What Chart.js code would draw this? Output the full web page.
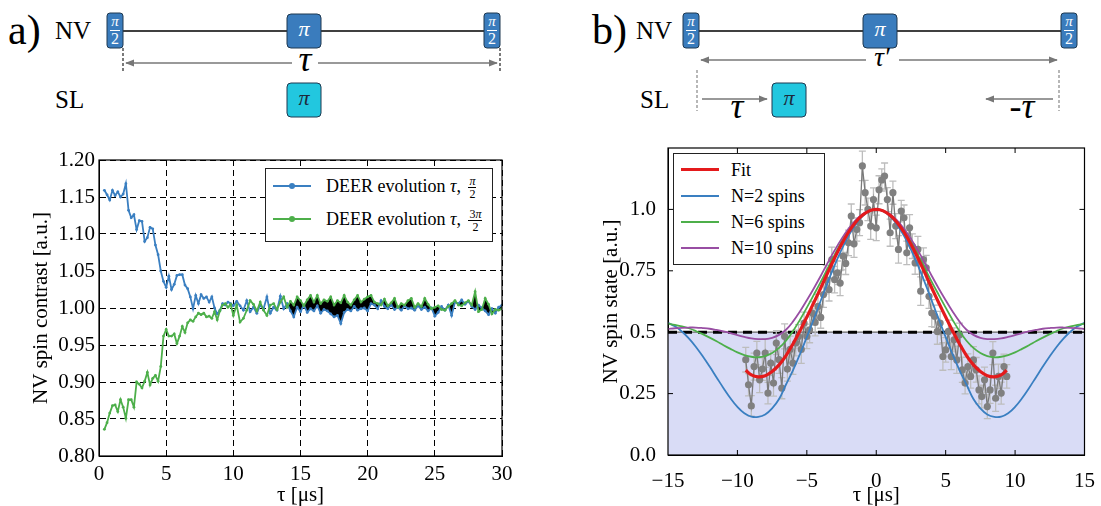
<!DOCTYPE html>
<html>
<head>
<meta charset="utf-8">
<title>DEER evolution</title>
<script src="https://cdn.jsdelivr.net/npm/chart.js@4.4.0/dist/chart.umd.min.js"></script>
<style>
  body { margin: 0; width: 1101px; height: 506px; background: #fff; position: relative; overflow: hidden; font-family: 'Liberation Serif', serif; }
  #diagram { position: absolute; left: 0; top: 0; }
  #diagramText { position: absolute; left: 0; top: 0; width: 1101px; height: 130px; }
  #diagramText div { position: absolute; line-height: 1; white-space: nowrap; font-family: 'Liberation Serif', serif; }
  .chartBox { position: absolute; }
  .legend { position: absolute; border: 1px solid #222; background: #fff; font-size: 18px; color: #000; z-index: 5; }
  .legend .row { position: absolute; left: 0; right: 0; height: 24px; line-height: 24px; }
  .legend .swatch { position: absolute; left: 7px; width: 38px; top: 11px; height: 2px; }
  .legend .dot { position: absolute; left: 16px; top: -2px; width: 6px; height: 6px; border-radius: 3px; }
  .legend .txt { position: absolute; white-space: nowrap; }
  .frac { display: inline-block; vertical-align: middle; text-align: center; font-size: 12px; line-height: 12px; margin-left: 3px; }
  .frac span { display: block; }
  .frac span:first-child { border-bottom: 1px solid #000; padding: 0 1px; }
</style>
</head>
<body>

<svg id="diagram" width="1101" height="130">
  <defs>
    <marker id="ah" viewBox="0 0 10 10" refX="9" refY="5" markerWidth="6" markerHeight="6" orient="auto-start-reverse">
      <path d="M0,1 L10,5 L0,9 z" fill="#777"/>
    </marker>
  </defs>

  <!-- a) sequence -->
  <line x1="123" y1="31" x2="484" y2="31" stroke="#000" stroke-width="1.5"/>
  <rect x="107" y="13" width="16" height="35" rx="3" fill="#3a7cbd" stroke="#1e3850"/>
  <line x1="110" y1="30.5" x2="120" y2="30.5" stroke="#fff"/>
  <rect x="287" y="14" width="34" height="34" rx="4" fill="#3a7cbd" stroke="#1e3850"/>
  <rect x="484" y="13" width="16" height="35" rx="3" fill="#3a7cbd" stroke="#1e3850"/>
  <line x1="487" y1="30.5" x2="497" y2="30.5" stroke="#fff"/>
  <line x1="123" y1="48" x2="123" y2="72" stroke="#222" stroke-width="1.2" stroke-dasharray="3,2"/>
  <line x1="500" y1="48" x2="500" y2="72" stroke="#222" stroke-width="1.2" stroke-dasharray="3,2"/>
  <line x1="126" y1="63" x2="292" y2="63" stroke="#777" stroke-width="1.5" marker-start="url(#ah)"/>
  <line x1="318" y1="63" x2="497" y2="63" stroke="#777" stroke-width="1.5" marker-end="url(#ah)"/>
  <rect x="287" y="83" width="34" height="34" rx="4" fill="#22c7df" stroke="#1e3850"/>

  <!-- b) sequence -->
  <line x1="699" y1="31" x2="1061" y2="31" stroke="#000" stroke-width="1.5"/>
  <rect x="683" y="13" width="16" height="35" rx="3" fill="#3a7cbd" stroke="#1e3850"/>
  <line x1="686" y1="30.5" x2="696" y2="30.5" stroke="#fff"/>
  <rect x="863" y="14" width="34" height="34" rx="4" fill="#3a7cbd" stroke="#1e3850"/>
  <rect x="1061" y="13" width="16" height="35" rx="3" fill="#3a7cbd" stroke="#1e3850"/>
  <line x1="1064" y1="30.5" x2="1074" y2="30.5" stroke="#fff"/>
  <line x1="701" y1="60" x2="866" y2="60" stroke="#777" stroke-width="1.5" marker-start="url(#ah)"/>
  <line x1="899" y1="60" x2="1057" y2="60" stroke="#777" stroke-width="1.5" marker-end="url(#ah)"/>
  <line x1="697" y1="70" x2="697" y2="111" stroke="#888" stroke-width="1.2" stroke-dasharray="3,2"/>
  <line x1="1059" y1="70" x2="1059" y2="111" stroke="#888" stroke-width="1.2" stroke-dasharray="3,2"/>
  <line x1="702" y1="99" x2="767" y2="99" stroke="#777" stroke-width="1.5" marker-end="url(#ah)"/>
  <rect x="772" y="83" width="34" height="34" rx="4" fill="#22c7df" stroke="#1e3850"/>
  <line x1="1053" y1="99" x2="986" y2="99" stroke="#777" stroke-width="1.5" marker-end="url(#ah)"/>
</svg>
<div id="diagramText"></div>

<div class="chartBox" style="left:0;top:140px;width:530px;height:366px;">
  <canvas id="deerChart" width="530" height="366"></canvas>
</div>
<div class="chartBox" style="left:560px;top:130px;width:541px;height:376px;">
  <canvas id="spinChart" width="541" height="376"></canvas>
</div>

<div class="legend" style="left:265px;top:168px;width:226px;height:72px;">
  <div class="row" style="top:5px;">
    <div class="swatch" style="background:#3a7fc1;"><div class="dot" style="background:#3a7fc1;"></div></div>
    <div class="txt" style="left:60px;">DEER evolution <i>τ</i>, <span class="frac"><span><i>π</i></span><span>2</span></span></div>
  </div>
  <div class="row" style="top:38px;">
    <div class="swatch" style="background:#4daf4a;"><div class="dot" style="background:#4daf4a;"></div></div>
    <div class="txt" style="left:60px;">DEER evolution <i>τ</i>, <span class="frac"><span>3<i>π</i></span><span>2</span></span></div>
  </div>
</div>

<div class="legend" style="left:673px;top:153px;width:150px;height:110px;">
  <div class="row" style="top:4px;"><div class="swatch" style="background:#e41a1c;height:3px;top:10px;"></div><div class="txt" style="left:57px;">Fit</div></div>
  <div class="row" style="top:30px;"><div class="swatch" style="background:#3a7fc1;"></div><div class="txt" style="left:57px;">N=2 spins</div></div>
  <div class="row" style="top:56px;"><div class="swatch" style="background:#4daf4a;"></div><div class="txt" style="left:57px;">N=6 spins</div></div>
  <div class="row" style="top:82px;"><div class="swatch" style="background:#984ea3;"></div><div class="txt" style="left:57px;">N=10 spins</div></div>
</div>

<script>
// ---- panel a) data : DEER evolution ----
const tauA = [0.4,0.6,0.8,1.0,1.2,1.4,1.6,1.8,2.0,2.2,2.4,2.6,2.8,3.0,3.2,3.4,3.6,3.8,4.0,4.2,4.4,4.6,4.8,5.0,5.2,5.4,5.6,5.8,6.0,6.2,6.4,6.6,6.8,7.0,7.2,7.4,7.6,7.8,8.0,8.2,8.4,8.6,8.8,9.0,9.2,9.4,9.6,9.8,10.0,
  10.25,10.5,10.75,11,11.25,11.5,11.75,12,12.25,12.5,12.75,13,13.25,13.5,13.75,14,14.25,14.5,14.75,15,15.25,15.5,15.75,16,16.25,16.5,16.75,17,17.25,17.5,17.75,18,18.25,18.5,18.75,19,19.25,19.5,19.75,20,
  20.25,20.5,20.75,21,21.25,21.5,21.75,22,22.25,22.5,22.75,23,23.25,23.5,23.75,24,24.25,24.5,24.75,25,25.25,25.5,25.75,26,26.25,26.5,26.75,27,27.25,27.5,27.75,28,28.25,28.5,28.75,29,29.25,29.5,29.75,30];
const blueA = [1.159,1.153,1.146,1.159,1.152,1.157,1.150,1.154,1.168,1.132,1.122,1.126,1.106,1.118,1.117,1.090,1.095,1.109,1.107,1.085,1.072,1.050,1.036,1.028,1.043,1.025,1.032,1.044,1.045,1.045,1.031,1.026,1.015,0.999,1.017,1.006,1.018,1.013,1.015,1.008,1.015,1.000,0.992,0.997,1.006,1.004,1.008,1.006,1.003,
  1.009,1.003,0.997,1.010,0.995,1.001,0.993,1.004,0.999,1.015,0.993,1.001,0.997,1.016,0.999,1.006,0.996,0.988,1.001,0.995,1.004,0.994,0.999,0.996,1.003,0.993,0.998,0.996,0.992,0.988,0.990,0.979,0.994,0.998,0.996,1.002,0.997,0.999,1.000,0.996,
  1.006,1.004,0.999,1.010,1.002,0.999,1.004,0.998,1.001,0.997,1.003,0.999,1.000,0.997,1.003,0.998,1.001,0.996,1.000,0.989,0.994,1.002,0.997,1.004,0.990,1.008,1.006,1.011,1.005,1.009,1.002,0.998,1.004,1.000,0.996,0.991,0.999,0.993,1.001,1.004];
const greenA = [0.836,0.845,0.858,0.868,0.869,0.860,0.876,0.866,0.851,0.876,0.876,0.866,0.900,0.897,0.892,0.901,0.913,0.896,0.905,0.909,0.901,0.921,0.962,0.971,0.962,0.962,0.965,0.952,0.962,0.975,0.967,0.980,0.984,0.982,0.988,0.993,0.991,0.993,0.988,0.989,0.986,0.995,0.984,0.996,1.004,1.006,1.001,1.005,0.990,
  1.004,0.981,0.986,0.997,1.010,1.005,0.996,1.008,0.997,0.990,1.004,1.006,0.998,1.008,1.015,1.001,1.009,1.004,1.015,1.010,1.003,1.011,1.017,1.008,1.017,1.006,1.011,1.009,1.015,1.004,1.010,1.007,1.017,1.008,1.004,1.011,1.017,1.008,1.012,1.015,
  1.017,1.008,1.006,1.004,1.012,1.003,1.007,1.013,1.001,1.006,1.004,1.010,1.013,1.001,1.006,1.002,1.013,1.005,0.999,1.001,1.003,0.998,0.997,1.002,1.006,1.010,1.004,1.003,1.007,1.010,1.004,1.022,0.995,0.998,1.013,1.005,0.992,0.998,0.997,0.999];
const overlapStart = 14;

// ---- panel b) data : spin state vs tau ----
const tauB = [-9.4,-9.2,-9.0,-8.8,-8.6,-8.4,-8.2,-8.0,-7.8,-7.6,-7.4,-7.2,-7.0,-6.8,-6.6,-6.4,-6.2,-6.0,-5.8,-5.6,-5.4,-5.2,-5.0,-4.8,-4.6,-4.4,-4.2,-4.0,-3.8,-3.6,-3.4,-3.2,-3.0,-2.8,-2.6,-2.4,-2.2,-2.0,-1.8,-1.6,-1.4,-1.2,-1.0,-0.8,-0.6,-0.4,-0.2,
  0.0,0.2,0.4,0.6,0.8,1.0,1.2,1.4,1.6,1.8,2.0,2.2,2.4,2.6,2.8,3.0,3.2,3.4,3.6,3.8,4.0,4.2,4.4,4.6,4.8,5.0,5.2,5.4,5.6,5.8,6.0,6.2,6.4,6.6,6.8,7.0,7.2,7.4,7.6,7.8,8.0,8.2,8.4,8.6,8.8,9.0,9.2,9.4];
const stateB = [0.388,0.286,0.200,0.360,0.415,0.306,0.350,0.415,0.252,0.374,0.293,0.456,0.388,0.272,0.483,0.350,0.430,0.374,0.456,0.483,0.430,0.537,0.483,0.510,0.578,0.540,0.605,0.560,0.653,0.714,0.673,0.796,0.714,0.742,0.700,0.810,0.780,0.864,0.973,0.860,0.918,0.946,1.177,1.068,1.000,0.932,1.040,
  0.925,1.080,1.120,1.136,1.040,0.905,1.068,0.932,0.837,0.993,0.966,0.823,0.925,0.850,0.782,0.837,0.667,0.796,0.762,0.646,0.578,0.565,0.503,0.537,0.401,0.428,0.503,0.401,0.469,0.387,0.490,0.347,0.293,0.360,0.320,0.387,0.347,0.265,0.238,0.306,0.197,0.265,0.415,0.231,0.320,0.252,0.360,0.320];
const errB = [0.050,0.045,0.042,0.055,0.048,0.052,0.046,0.058,0.044,0.050,0.053,0.047,0.056,0.043,0.051,0.049,0.054,0.046,0.052,0.048,0.057,0.045,0.050,0.053,0.047,0.055,0.049,0.044,0.052,0.058,0.046,0.050,0.054,0.048,0.051,0.056,0.045,0.052,0.049,0.055,0.047,0.053,0.060,0.050,0.046,0.054,0.048,
  0.052,0.057,0.045,0.053,0.049,0.055,0.047,0.051,0.056,0.044,0.052,0.048,0.054,0.050,0.046,0.053,0.058,0.047,0.051,0.049,0.055,0.045,0.052,0.048,0.056,0.050,0.046,0.053,0.049,0.055,0.047,0.051,0.044,0.052,0.048,0.054,0.050,0.057,0.046,0.052,0.049,0.055,0.047,0.053,0.050,0.045,0.051,0.048];

const tauFit = [-15,-14.5,-14,-13.5,-13,-12.5,-12,-11.5,-11,-10.5,-10,-9.5,-9,-8.5,-8,-7.5,-7,-6.5,-6,-5.5,-5,-4.5,-4,-3.5,-3,-2.5,-2,-1.5,-1,-0.5,
  0,0.5,1,1.5,2,2.5,3,3.5,4,4.5,5,5.5,6,6.5,7,7.5,8,8.5,9,9.5,10,10.5,11,11.5,12,12.5,13,13.5,14,14.5,15];
const spins2 = [0.538,0.524,0.503,0.475,0.441,0.402,0.360,0.316,0.272,0.231,0.196,0.170,0.156,0.155,0.165,0.190,0.228,0.287,0.345,0.410,0.480,0.553,0.628,0.702,0.772,0.836,0.892,0.938,0.972,0.993,
  1.000,0.993,0.972,0.938,0.892,0.836,0.772,0.702,0.628,0.553,0.480,0.410,0.345,0.287,0.228,0.190,0.165,0.155,0.156,0.170,0.196,0.231,0.272,0.316,0.360,0.402,0.441,0.475,0.503,0.524,0.538];
const spins6 = [0.535,0.530,0.524,0.516,0.505,0.492,0.478,0.463,0.447,0.432,0.418,0.407,0.400,0.398,0.403,0.415,0.436,0.465,0.504,0.550,0.600,0.652,0.705,0.760,0.815,0.868,0.913,0.950,0.977,0.994,
  1.000,0.994,0.977,0.950,0.913,0.868,0.815,0.760,0.705,0.652,0.600,0.550,0.504,0.465,0.436,0.415,0.403,0.398,0.400,0.407,0.418,0.432,0.447,0.463,0.478,0.492,0.505,0.516,0.524,0.530,0.535];
const spins10 = [0.513,0.516,0.518,0.519,0.519,0.517,0.514,0.509,0.503,0.496,0.488,0.481,0.475,0.472,0.472,0.477,0.489,0.510,0.543,0.584,0.630,0.678,0.729,0.782,0.833,0.880,0.921,0.955,0.980,0.995,
  1.000,0.995,0.980,0.955,0.921,0.880,0.833,0.782,0.729,0.678,0.630,0.584,0.543,0.510,0.489,0.477,0.472,0.472,0.475,0.481,0.488,0.496,0.503,0.509,0.514,0.517,0.519,0.519,0.518,0.516,0.513];
const tauRed = [-9.4,-9,-8.5,-8,-7.5,-7,-6.5,-6,-5.5,-5,-4.5,-4,-3.5,-3,-2.5,-2,-1.5,-1,-0.5,0,0.5,1,1.5,2,2.5,3,3.5,4,4.5,5,5.5,6,6.5,7,7.5,8,8.5,9,9.4];
const fitB = [0.345,0.326,0.318,0.323,0.340,0.367,0.405,0.452,0.505,0.562,0.620,0.680,0.742,0.802,0.858,0.907,0.947,0.976,0.994,1.000,0.994,0.976,0.947,0.907,0.858,0.802,0.742,0.680,0.620,0.562,0.505,0.452,0.405,0.367,0.340,0.323,0.318,0.326,0.345];
const xRangeB = [-15, 15];
const halfLevel = 0.5;
const yTickLabelsB = { 0: '0.0', 0.25: '0.25', 0.5: '0.5', 0.75: '0.75', 1: '1.0' };

const BLUE = '#3a7fc1';
const GREEN = '#4daf4a';
const RED = '#e41a1c';
const PURPLE = '#984ea3';

// ---- pulse sequence labels (HTML text over the svg shapes) ----
const diagramText = document.getElementById('diagramText');
function addText(x, baseline, html, size, opts) {
  opts = opts || {};
  const d = document.createElement('div');
  d.innerHTML = html;
  d.style.fontSize = size + 'px';
  d.style.top = (baseline - 0.89 * size) + 'px';
  d.style.left = x + 'px';
  if (opts.center) d.style.transform = 'translateX(-50%)';
  if (opts.italic) d.style.fontStyle = 'italic';
  if (opts.color) d.style.color = opts.color;
  diagramText.appendChild(d);
}
// a)
addText(8, 46, 'a)', 42);
addText(55, 40, 'NV', 25);
addText(55, 109, 'SL', 25);
[115, 492].forEach(cx => {
  addText(cx, 27, 'π', 15, { center: true, italic: true, color: '#fff' });
  addText(cx, 45, '2', 16, { center: true, color: '#fff' });
});
addText(304, 38, 'π', 22, { center: true, italic: true, color: '#fff' });
addText(305, 73, 'τ', 36, { center: true, italic: true });
addText(304, 107, 'π', 22, { center: true, italic: true, color: '#1e2a3a' });
// b)
addText(592, 46, 'b)', 42);
addText(636, 40, 'NV', 25);
addText(640, 109, 'SL', 25);
[691, 1069].forEach(cx => {
  addText(cx, 27, 'π', 15, { center: true, italic: true, color: '#fff' });
  addText(cx, 45, '2', 16, { center: true, color: '#fff' });
});
addText(880, 38, 'π', 22, { center: true, italic: true, color: '#fff' });
addText(882, 68, 'τ′', 27, { center: true, italic: true });
addText(737, 120, 'τ', 36, { center: true, italic: true });
addText(789, 107, 'π', 22, { center: true, italic: true, color: '#1e2a3a' });
addText(1022, 120, '-τ', 36, { center: true, italic: true });

Chart.defaults.font.family = "'Liberation Serif', 'Times New Roman', serif";
Chart.defaults.color = '#000';

const pts = (xs, ys) => xs.map((x, i) => ({ x: x, y: ys[i] }));

// solid frame round the plot area, plus inward ticks when asked
const framePlugin = {
  id: 'frame',
  afterDatasetsDraw(chart, args, opts) {
    const { ctx, chartArea: a, scales } = chart;
    ctx.save();
    ctx.strokeStyle = '#000';
    ctx.lineWidth = 1.2;
    ctx.strokeRect(a.left, a.top, a.right - a.left, a.bottom - a.top);
    if (opts.innerTicks) {
      ctx.lineWidth = 1;
      ctx.beginPath();
      scales.x.ticks.forEach(t => {
        if (t.value <= scales.x.min || t.value >= scales.x.max) return;
        const px = scales.x.getPixelForValue(t.value);
        ctx.moveTo(px, a.bottom); ctx.lineTo(px, a.bottom - 5);
        ctx.moveTo(px, a.top); ctx.lineTo(px, a.top + 5);
      });
      scales.y.ticks.forEach(t => {
        if (t.value <= scales.y.min || t.value >= scales.y.max) return;
        const py = scales.y.getPixelForValue(t.value);
        ctx.moveTo(a.left, py); ctx.lineTo(a.left + 5, py);
        ctx.moveTo(a.right, py); ctx.lineTo(a.right - 5, py);
      });
      ctx.stroke();
    }
    ctx.restore();
  }
};

// error bars drawn just before the dataset that carries them
const errorBarPlugin = {
  id: 'errorBars',
  beforeDatasetDraw(chart, args) {
    const ds = chart.data.datasets[args.index];
    if (!ds.errors) return;
    const { ctx, scales } = chart;
    ctx.save();
    ctx.strokeStyle = '#bdbdbd';
    ctx.lineWidth = 1.3;
    ctx.beginPath();
    ds.data.forEach((p, i) => {
      const px = scales.x.getPixelForValue(p.x);
      const top = scales.y.getPixelForValue(p.y + ds.errors[i]);
      const bot = scales.y.getPixelForValue(p.y - ds.errors[i]);
      ctx.moveTo(px, top); ctx.lineTo(px, bot);
      ctx.moveTo(px - 3.5, top); ctx.lineTo(px + 3.5, top);
      ctx.moveTo(px - 3.5, bot); ctx.lineTo(px + 3.5, bot);
    });
    ctx.stroke();
    ctx.restore();
  }
};

// Line chart: DEER evolution (panel a)
const deerCanvas = document.getElementById('deerChart');
if (deerCanvas) {
  new Chart(deerCanvas.getContext('2d'), {
    type: 'line',
    data: {
      datasets: [{
        label: 'DEER evolution τ, π/2',
        data: pts(tauA, blueA),
        borderColor: BLUE,
        backgroundColor: BLUE,
        borderWidth: 1.8,
        pointRadius: 1.4,
        pointBorderWidth: 0,
        order: 1
      }, {
        label: 'DEER evolution τ, 3π/2',
        data: pts(tauA, greenA),
        borderColor: GREEN,
        backgroundColor: GREEN,
        borderWidth: 1.8,
        pointRadius: 1.4,
        pointBorderWidth: 0,
        order: 0
      }, {
        label: 'difference',
        data: pts(tauA, blueA).filter(p => p.x >= overlapStart),
        borderWidth: 0,
        pointRadius: 0,
        backgroundColor: '#000',
        fill: 1,
        order: 2
      }]
    },
    options: {
      responsive: false,
      animation: false,
      layout: { padding: { left: 0, top: 20, right: 28, bottom: 0 } },
      plugins: {
        legend: { display: false },
        tooltip: { enabled: false },
        frame: { innerTicks: false }
      },
      scales: {
        x: {
          type: 'linear',
          min: 0,
          max: 30,
          afterFit: s => { s.height = 50; },
          ticks: { stepSize: 5, padding: 6, font: { size: 21 } },
          grid: { color: '#000', lineWidth: 1, drawTicks: false },
          border: { color: '#000', dash: [6, 4] },
          title: { display: true, text: 'τ [μs]', font: { size: 21, lineHeight: 1 }, padding: { top: 0, bottom: 0 } }
        },
        y: {
          min: 0.8,
          max: 1.2,
          afterFit: s => { s.width = 99; },
          ticks: { stepSize: 0.05, padding: 4, font: { size: 21 }, callback: v => Number(v).toFixed(2) },
          grid: { color: '#000', lineWidth: 1, drawTicks: false },
          border: { color: '#000', dash: [6, 4] },
          title: { display: true, text: 'NV spin contrast [a.u.]', font: { size: 21, lineHeight: 1 }, padding: { top: 31, bottom: 0 } }
        }
      }
    },
    plugins: [framePlugin]
  });
}

// Scatter + model curves: spin state (panel b)
const spinCanvas = document.getElementById('spinChart');
if (spinCanvas) {
  new Chart(spinCanvas.getContext('2d'), {
    type: 'line',
    data: {
      datasets: [{
        label: 'below half',
        data: [{ x: xRangeB[0], y: halfLevel }, { x: xRangeB[1], y: halfLevel }],
        borderColor: '#666',
        borderWidth: 1.2,
        backgroundColor: '#d9dcf6',
        pointRadius: 0,
        fill: 'origin',
        order: 7
      }, {
        label: 'half level',
        data: [{ x: xRangeB[0], y: halfLevel }, { x: xRangeB[1], y: halfLevel }],
        borderColor: '#000',
        borderWidth: 3,
        borderDash: [9, 6],
        pointRadius: 0,
        order: 6
      }, {
        label: 'Data',
        data: pts(tauB, stateB),
        errors: errB,
        borderColor: '#7a7a7a',
        borderWidth: 1.3,
        pointRadius: 3.6,
        pointBackgroundColor: '#808080',
        pointBorderWidth: 0,
        order: 5
      }, {
        label: 'N=2 spins',
        data: pts(tauFit, spins2),
        borderColor: BLUE,
        borderWidth: 1.8,
        pointRadius: 0,
        tension: 0.4,
        order: 4
      }, {
        label: 'N=6 spins',
        data: pts(tauFit, spins6),
        borderColor: GREEN,
        borderWidth: 1.8,
        pointRadius: 0,
        tension: 0.4,
        order: 3
      }, {
        label: 'N=10 spins',
        data: pts(tauFit, spins10),
        borderColor: PURPLE,
        borderWidth: 1.8,
        pointRadius: 0,
        tension: 0.4,
        order: 2
      }, {
        label: 'Fit',
        data: pts(tauRed, fitB),
        borderColor: RED,
        borderWidth: 3.2,
        pointRadius: 0,
        tension: 0.4,
        order: 1
      }]
    },
    options: {
      responsive: false,
      animation: false,
      layout: { padding: { left: 0, top: 18, right: 13, bottom: 0 } },
      plugins: {
        legend: { display: false },
        tooltip: { enabled: false },
        frame: { innerTicks: true }
      },
      scales: {
        x: {
          type: 'linear',
          min: -15,
          max: 15,
          afterFit: s => { s.height = 51; },
          ticks: { stepSize: 5, padding: 6, font: { size: 21 }, callback: v => (v < 0 ? '\u2212' + Math.abs(v) : String(v)) },
          grid: { display: false },
          border: { color: '#000' },
          title: { display: true, text: 'τ [μs]', font: { size: 21, lineHeight: 1 }, padding: { top: 0, bottom: 0.5 } }
        },
        y: {
          min: 0,
          max: 1.25,
          afterFit: s => { s.width = 108; },
          ticks: { stepSize: 0.25, padding: 4, font: { size: 21 }, callback: v => yTickLabelsB[v] || '' },
          grid: { display: false },
          border: { color: '#000' },
          title: { display: true, text: 'NV spin state [a.u.]', font: { size: 21, lineHeight: 1 }, padding: { top: 41, bottom: 0 } }
        }
      }
    },
    plugins: [errorBarPlugin, framePlugin]
  });
}
</script>
</body>
</html>
